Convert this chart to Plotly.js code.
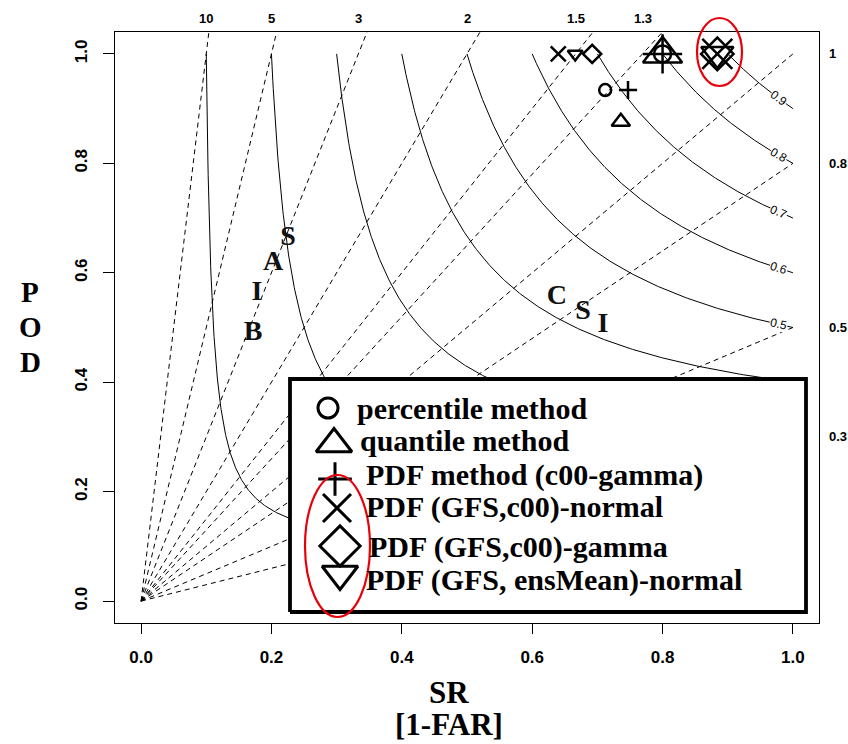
<!DOCTYPE html>
<html>
<head>
<meta charset="utf-8">
<script src="https://cdn.plot.ly/plotly-3.0.1.min.js"></script>
<style>
  html, body { margin: 0; padding: 0; background: #ffffff; }
  #chart { width: 848px; height: 744px; }
</style>
</head>
<body>
<div id="chart"></div>
<script>
// ---- reference lines of the performance diagram ----
// frequency bias (POD / SR) rays from the origin
const biasValues = [0.3, 0.5, 0.8, 1, 1.3, 1.5, 2, 3, 5, 10];
const biasTopValues = [10, 5, 3, 2, 1.5, 1.3];
const biasTopLabels = ['10', '5', '3', '2', '1.5', '1.3'];
const biasRightValues = [1, 0.8, 0.5, 0.3];
const biasRightLabels = ['1', '0.8', '0.5', '0.3'];
// critical success index isolines
const csiValues = [0.1, 0.2, 0.3, 0.4, 0.5, 0.6, 0.7, 0.8, 0.9];
const csiLabelValues = [0.5, 0.6, 0.7, 0.8, 0.9];
const csiLabelText = ['0.5', '0.6', '0.7', '0.8', '0.9'];

// ---- verification scores: success ratio (1-FAR) and probability of detection ----
const methodNames = [
  'percentile method',
  'quantile method',
  'PDF method (c00-gamma)',
  'PDF (GFS,c00)-normal',
  'PDF (GFS,c00)-gamma',
  'PDF (GFS, ensMean)-normal'
];
const percentileSR = [0.712, 0.800];
const percentilePOD = [0.934, 1.000];
const quantileSR = [0.736, 0.800];
const quantilePOD = [0.876, 1.000];
const pdfGammaSR = [0.747, 0.800];
const pdfGammaPOD = [0.934, 1.000];
const gfsNormalSR = [0.640, 0.884];
const gfsNormalPOD = [1.000, 1.000];
const gfsGammaSR = [0.692, 0.884];
const gfsGammaPOD = [1.000, 1.000];
const ensMeanSR = [0.666, 0.884];
const ensMeanPOD = [1.000, 1.000];

// letter labels placed in the diagram
const letterText = ['S', 'A', 'I', 'B', 'C', 'S', 'I'];
const letterSR = [0.2255, 0.2025, 0.1779, 0.1718, 0.638, 0.678, 0.7086];
const letterPOD = [0.6636, 0.6179, 0.5631, 0.4899, 0.5558, 0.5283, 0.5046];

// ---- styling ----
const SERIF = '"Liberation Serif", "Times New Roman", serif';
const SANS = '"Liberation Sans", Arial, sans-serif';
const W = 848, H = 744;
const M = { l: 115, r: 29, t: 32, b: 121 };
const PW = W - M.l - M.r, PH = H - M.t - M.b;
const RANGE = [-0.04, 1.04];
// pixel -> paper helpers for page furniture (titles, key box)
const px = v => (v - M.l) / PW;
const py = v => (H - M.b - v) / PH;

const methodSymbols = ['circle-open', 'triangle-up-open', 'cross-thin-open',
                       'x-thin-open', 'diamond-open', 'triangle-down-open'];
const methodSizes = [[12, 17], [16, 34], [13, 28], [15, 30], [14, 25], [13, 28]];
const keySizes = [20, 31, 24, 28, 31, 31];

const traces = [];

// bias rays (clipped to the plotting region)
biasValues.forEach(b => {
  traces.push({
    x: [0, 1], y: [0, b], mode: 'lines', type: 'scatter', hoverinfo: 'skip',
    line: { color: '#000', width: 1, dash: '5px,4px' }
  });
});

// CSI isoline: 1/CSI = 1/SR + 1/POD - 1, traced along rays of bias tan(theta)
function csiCurve(c) {
  const xs = [], ys = [];
  const a0 = Math.atan(c), a1 = Math.atan(1 / c), n = 300;
  for (let i = 0; i <= n; i++) {
    const bb = Math.tan(a0 + (a1 - a0) * i / n);
    const sr = (1 + 1 / bb) / (1 / c + 1);
    xs.push(sr); ys.push(bb * sr);
  }
  return { xs, ys };
}
csiValues.forEach(c => {
  const cv = csiCurve(c);
  traces.push({
    x: cv.xs, y: cv.ys, mode: 'lines', type: 'scatter', hoverinfo: 'skip',
    line: { color: '#000', width: 1 }
  });
});

// method points
const methodSR = [percentileSR, quantileSR, pdfGammaSR, gfsNormalSR, gfsGammaSR, ensMeanSR];
const methodPOD = [percentilePOD, quantilePOD, pdfGammaPOD, gfsNormalPOD, gfsGammaPOD, ensMeanPOD];
methodNames.forEach((name, i) => {
  traces.push({
    x: methodSR[i], y: methodPOD[i], name: name, mode: 'markers', type: 'scatter',
    marker: { symbol: methodSymbols[i], size: methodSizes[i], color: '#000', opacity: 1,
              line: { color: '#000', width: 2.5 } }
  });
});

// letters
traces.push({
  x: letterSR, y: letterPOD, mode: 'text', type: 'scatter', hoverinfo: 'skip',
  text: letterText.map(t => '<b>' + t + '</b>'),
  textposition: 'middle center',
  textfont: { family: SERIF, size: 28, color: '#111' }
});

// key box, drawn on an overlaying paper-like axis pair so it sits above the lines
const keyBox = { x0: px(290), x1: px(806), y0: py(612), y1: py(379) };
traces.push({
  x: [keyBox.x0, keyBox.x1, keyBox.x1, keyBox.x0, keyBox.x0],
  y: [keyBox.y0, keyBox.y0, keyBox.y1, keyBox.y1, keyBox.y0],
  xaxis: 'x2', yaxis: 'y2', mode: 'lines', type: 'scatter', hoverinfo: 'skip',
  fill: 'toself', fillcolor: '#ffffff', line: { color: '#000', width: 3.8 }
});
const keyMarkX = [328, 334, 335, 337, 340, 340].map(px);
const keyMarkY = [408, 444, 479, 508, 546, 574].map(py);
traces.push({
  x: keyMarkX, y: keyMarkY, xaxis: 'x2', yaxis: 'y2', mode: 'markers', type: 'scatter',
  hoverinfo: 'skip',
  marker: { symbol: methodSymbols, size: keySizes, color: '#000', opacity: 1,
            line: { color: '#000', width: 3 } }
});

const annotations = [];
const keyTextX = [355, 358, 364, 364, 367, 364];
const keyTextY = [408, 440, 475, 507, 547, 580];
methodNames.forEach((name, i) => {
  annotations.push({
    xref: 'paper', yref: 'paper', x: px(keyTextX[i]), y: py(keyTextY[i]),
    xanchor: 'left', yanchor: 'middle', showarrow: false,
    text: '<b>' + name + '</b>', font: { family: SERIF, size: 30, color: '#000' }
  });
});

// bias labels on top and right
biasTopValues.forEach((b, i) => {
  annotations.push({
    xref: 'x', yref: 'paper', x: 1 / b, y: py(18), xanchor: 'center', yanchor: 'middle',
    showarrow: false, text: '<b>' + biasTopLabels[i] + '</b>',
    font: { family: SANS, size: 13, color: '#000' }
  });
});
biasRightValues.forEach((b, i) => {
  annotations.push({
    xref: 'paper', yref: 'y', x: px(827), y: b, xanchor: 'left', yanchor: 'middle',
    showarrow: false, text: '<b>' + biasRightLabels[i] + '</b>',
    font: { family: SANS, size: 13, color: '#000' }
  });
});

// CSI labels near the right end of each isoline
const labelSR = 0.978;
const pxPerX = PW / (RANGE[1] - RANGE[0]), pxPerY = PH / (RANGE[1] - RANGE[0]);
csiLabelValues.forEach((c, i) => {
  const pod = 1 / (1 / c + 1 - 1 / labelSR);
  const slope = (pod * pod) / (labelSR * labelSR) * pxPerY / pxPerX;
  annotations.push({
    xref: 'x', yref: 'y', x: labelSR, y: pod, showarrow: false,
    xanchor: 'center', yanchor: 'middle',
    text: csiLabelText[i], textangle: Math.atan(slope) * 180 / Math.PI,
    bgcolor: '#ffffff', borderpad: 0,
    font: { family: SANS, size: 12, color: '#000' }
  });
});

// axis titles
annotations.push({ xref: 'paper', yref: 'paper', x: px(449), y: py(692), showarrow: false,
  xanchor: 'center', yanchor: 'middle',
  text: '<b>SR</b>', font: { family: SERIF, size: 31, color: '#000' } });
annotations.push({ xref: 'paper', yref: 'paper', x: px(449), y: py(724), showarrow: false,
  xanchor: 'center', yanchor: 'middle',
  text: '<b>[1-FAR]</b>', font: { family: SERIF, size: 31, color: '#000' } });
['P', 'O', 'D'].forEach((ch, i) => {
  annotations.push({ xref: 'paper', yref: 'paper', x: px(30), y: py(292 + 35 * i), showarrow: false,
    xanchor: 'center', yanchor: 'middle',
    text: '<b>' + ch + '</b>', font: { family: SERIF, size: 29, color: '#000' } });
});

const tickVals = [0, 0.2, 0.4, 0.6, 0.8, 1.0];
const tickText = ['0.0', '0.2', '0.4', '0.6', '0.8', '1.0'];

const layout = {
  width: W, height: H,
  margin: M,
  paper_bgcolor: '#ffffff', plot_bgcolor: '#ffffff',
  showlegend: false,
  xaxis: {
    range: RANGE, tickvals: tickVals, ticktext: tickText,
    ticks: 'outside', ticklen: 10, tickwidth: 1, tickcolor: '#000', ticklabelstandoff: 8,
    showline: true, mirror: true, linecolor: '#000', linewidth: 1.2,
    showgrid: false, zeroline: false,
    tickfont: { family: SANS, size: 17, color: '#000', weight: 'bold' }
  },
  yaxis: {
    range: RANGE, tickvals: tickVals, ticktext: tickText, tickangle: -90,
    ticks: 'outside', ticklen: 11, tickwidth: 1, tickcolor: '#000', ticklabelstandoff: 9,
    showline: true, mirror: true, linecolor: '#000', linewidth: 1.2,
    showgrid: false, zeroline: false,
    tickfont: { family: SANS, size: 17, color: '#000', weight: 'bold' }
  },
  xaxis2: { overlaying: 'x', range: [0, 1], visible: false, fixedrange: true },
  yaxis2: { overlaying: 'y', range: [0, 1], visible: false, fixedrange: true },
  annotations: annotations,
  shapes: [
    { type: 'circle', xref: 'paper', yref: 'paper', layer: 'above',
      x0: px(697), x1: px(742), y0: py(86), y1: py(18),
      line: { color: '#e8000b', width: 2.2 } },
    { type: 'circle', xref: 'paper', yref: 'paper', layer: 'above',
      x0: px(305), x1: px(370), y0: py(617), y1: py(475),
      line: { color: '#e8000b', width: 2.2 } }
  ]
};

Plotly.newPlot('chart', traces, layout, { staticPlot: true, displayModeBar: false });
</script>
</body>
</html>
